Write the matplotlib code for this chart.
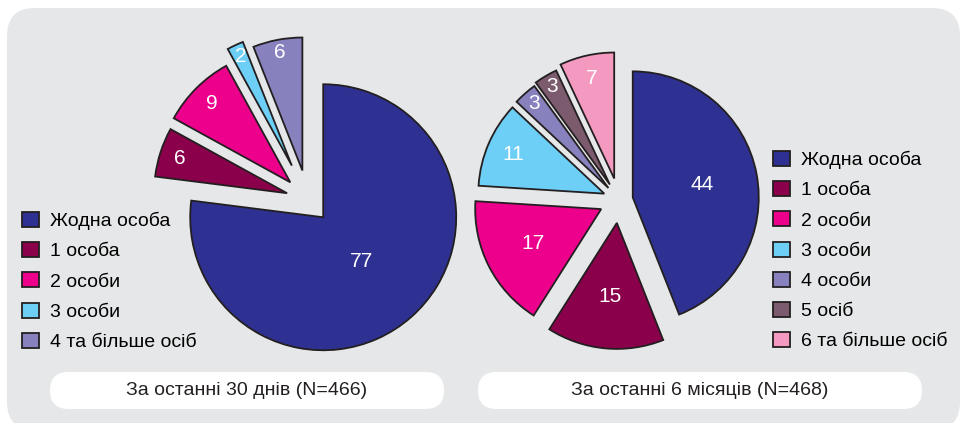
import numpy as np
import matplotlib
matplotlib.use('Agg')
import matplotlib.pyplot as plt
from matplotlib.patches import FancyBboxPatch

plt.rcParams['font.family'] = ['Liberation Sans', 'DejaVu Sans']

# дані
labels_30 = ['Жодна особа', '1 особа', '2 особи', '3 особи', '4 та більше осіб']
values_30 = [77, 6, 9, 2, 6]
labels_6m = ['Жодна особа', '1 особа', '2 особи', '3 особи', '4 особи', '5 осіб', '6 та більше осіб']
values_6m = [44, 15, 17, 11, 3, 3, 7]
title_30 = 'За останні 30 днів (N=466)'
title_6m = 'За останні 6 місяців (N=468)'

colors_30 = ['#2e3192', '#8b004b', '#ec008c', '#6dcff6', '#8781bd']
colors_6m = ['#2e3192', '#8b004b', '#ec008c', '#6dcff6', '#8781bd', '#7b5b6d', '#f49ac1']

W, H = 960, 423
fig = plt.figure(figsize=(W / 100, H / 100), dpi=100)
ax = fig.add_axes([0, 0, 1, 1])

def Y(y):
    # координати картинки -> осі (вісь y вгору)
    return H - y

# сіра панель
ax.add_patch(FancyBboxPatch((7, Y(430)), 953, 422, boxstyle='round,pad=0,rounding_size=28',
                            facecolor='#e6e7e8', edgecolor='none', zorder=0))

edge = dict(edgecolor='#231f20', linewidth=1.3)

# ліва діаграма
w1, _ = ax.pie(values_30, colors=colors_30, startangle=90, counterclock=False,
               radius=133, center=(308, Y(200)), explode=[23, 22, 25, 38, 30],
               wedgeprops=edge)
# права діаграма
w2, _ = ax.pie(values_6m, colors=colors_6m, startangle=90, counterclock=False,
               radius=126, center=(619, Y(200)), explode=[14, 23, 20, 16, 16, 18, 22],
               wedgeprops=edge)

dist_30 = [0.44, 0.85, 0.84, 0.91, 0.9]
dist_6m = [0.56, 0.59, 0.61, 0.79, 0.89, 0.9, 0.81]

for wedges, vals, dists in [(w1, values_30, dist_30), (w2, values_6m, dist_6m)]:
    for w, v, d in zip(wedges, vals, dists):
        th = np.deg2rad((w.theta1 + w.theta2) / 2)
        cx, cy = w.center
        ax.text(cx + d * w.r * np.cos(th), cy + d * w.r * np.sin(th), str(v),
                color='white', fontsize=15, ha='center', va='center')

leg_kw = dict(loc='upper left', frameon=False, fontsize=14, borderpad=0, borderaxespad=0,
              handlelength=0.88, handleheight=0.82, handletextpad=0.55, labelspacing=0.61)
leg1 = ax.legend(w1, labels_30, bbox_to_anchor=(22 / W, Y(212) / H), **leg_kw)
ax.add_artist(leg1)
leg2 = ax.legend(w2, labels_6m, bbox_to_anchor=(773 / W, Y(151) / H), **leg_kw)

# підписи знизу
for x0, x1, txt in [(50, 444, title_30), (478, 922, title_6m)]:
    ax.add_patch(FancyBboxPatch((x0, Y(409)), x1 - x0, 37, boxstyle='round,pad=0,rounding_size=18.5',
                                facecolor='white', edgecolor='none', zorder=1))
    ax.text((x0 + x1) / 2, Y(390), txt, fontsize=14, ha='center', va='center',
            color='#231f20', zorder=2)

ax.set_xlim(0, W)
ax.set_ylim(0, H)
ax.set_aspect('equal')
ax.axis('off')

fig.savefig('out.png', dpi=100, facecolor='white')
